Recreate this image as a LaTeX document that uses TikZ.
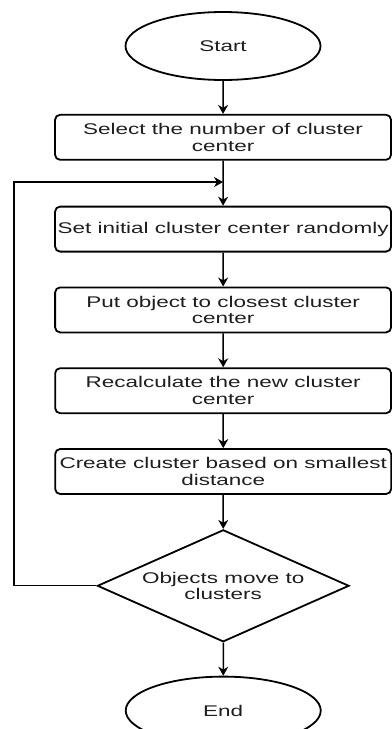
\documentclass[tikz,border=0pt]{standalone}
\usepackage{fontspec}
\setmainfont{Liberation Sans}
\usetikzlibrary{arrows.meta,shapes,positioning}
\definecolor{fctext}{RGB}{30,30,30}
\tikzstyle{arrow} = [line width=1.5pt,-{Stealth[length=9pt,width=10pt]}]
\tikzstyle{backarrow} = [line width=1.1pt,-{Stealth[length=9pt,width=10pt]}]
\tikzstyle{terminal} = [ellipse, minimum width=134.5pt, minimum height=68pt, draw, line width=1.8pt, text=fctext]
\tikzstyle{process} = [rectangle, rounded corners=5pt, minimum width=231.7pt, minimum height=45pt, inner xsep=1pt, align=center, draw, line width=1.8pt, text=fctext]
\tikzstyle{decision} = [diamond, aspect=1.55, inner sep=0pt, minimum width=173.8pt, minimum height=112pt, align=center, draw, line width=1.8pt, text=fctext]

\begin{document}
\begin{tikzpicture}[x=1pt, y=-1pt, xscale=1.45, transform shape, node distance=34pt,
  font=\fontsize{15.5}{16.6}\selectfont]
\useasboundingbox (0,0) rectangle (269.66,729);
% k-means steps
\node (start) [terminal] at (153.8,46) {Start};
\node (select) [process, below=33pt of start] {Select the number of cluster\\center};
\node (init) [process, below=45pt of select] {Set initial cluster center randomly};
\node (assign) [process, below=of init] {Put object to closest cluster\\center};
\node (recalc) [process, below=of assign] {Recalculate the new cluster\\center};
\node (create) [process, below=of recalc] {Create cluster based on smallest\\distance};
\node (check) [decision, below=of create] {Objects move to\\clusters};
\node (stop) [terminal, below=33pt of check] {End};

\draw[arrow] (start) -- (select);
\draw[arrow] (select) -- (init);
\draw[arrow] (init) -- (assign);
\draw[arrow] (assign) -- (recalc);
\draw[arrow] (recalc) -- (create);
\draw[arrow] (create) -- (check);
\draw[arrow] (check) -- (stop);

% loop back to the initial step
\coordinate (join) at (153.8,182);
\coordinate (corner) at (9.66,182);
\draw[backarrow] (check.west) -| (corner) -- (join);
\end{tikzpicture}
\end{document}
